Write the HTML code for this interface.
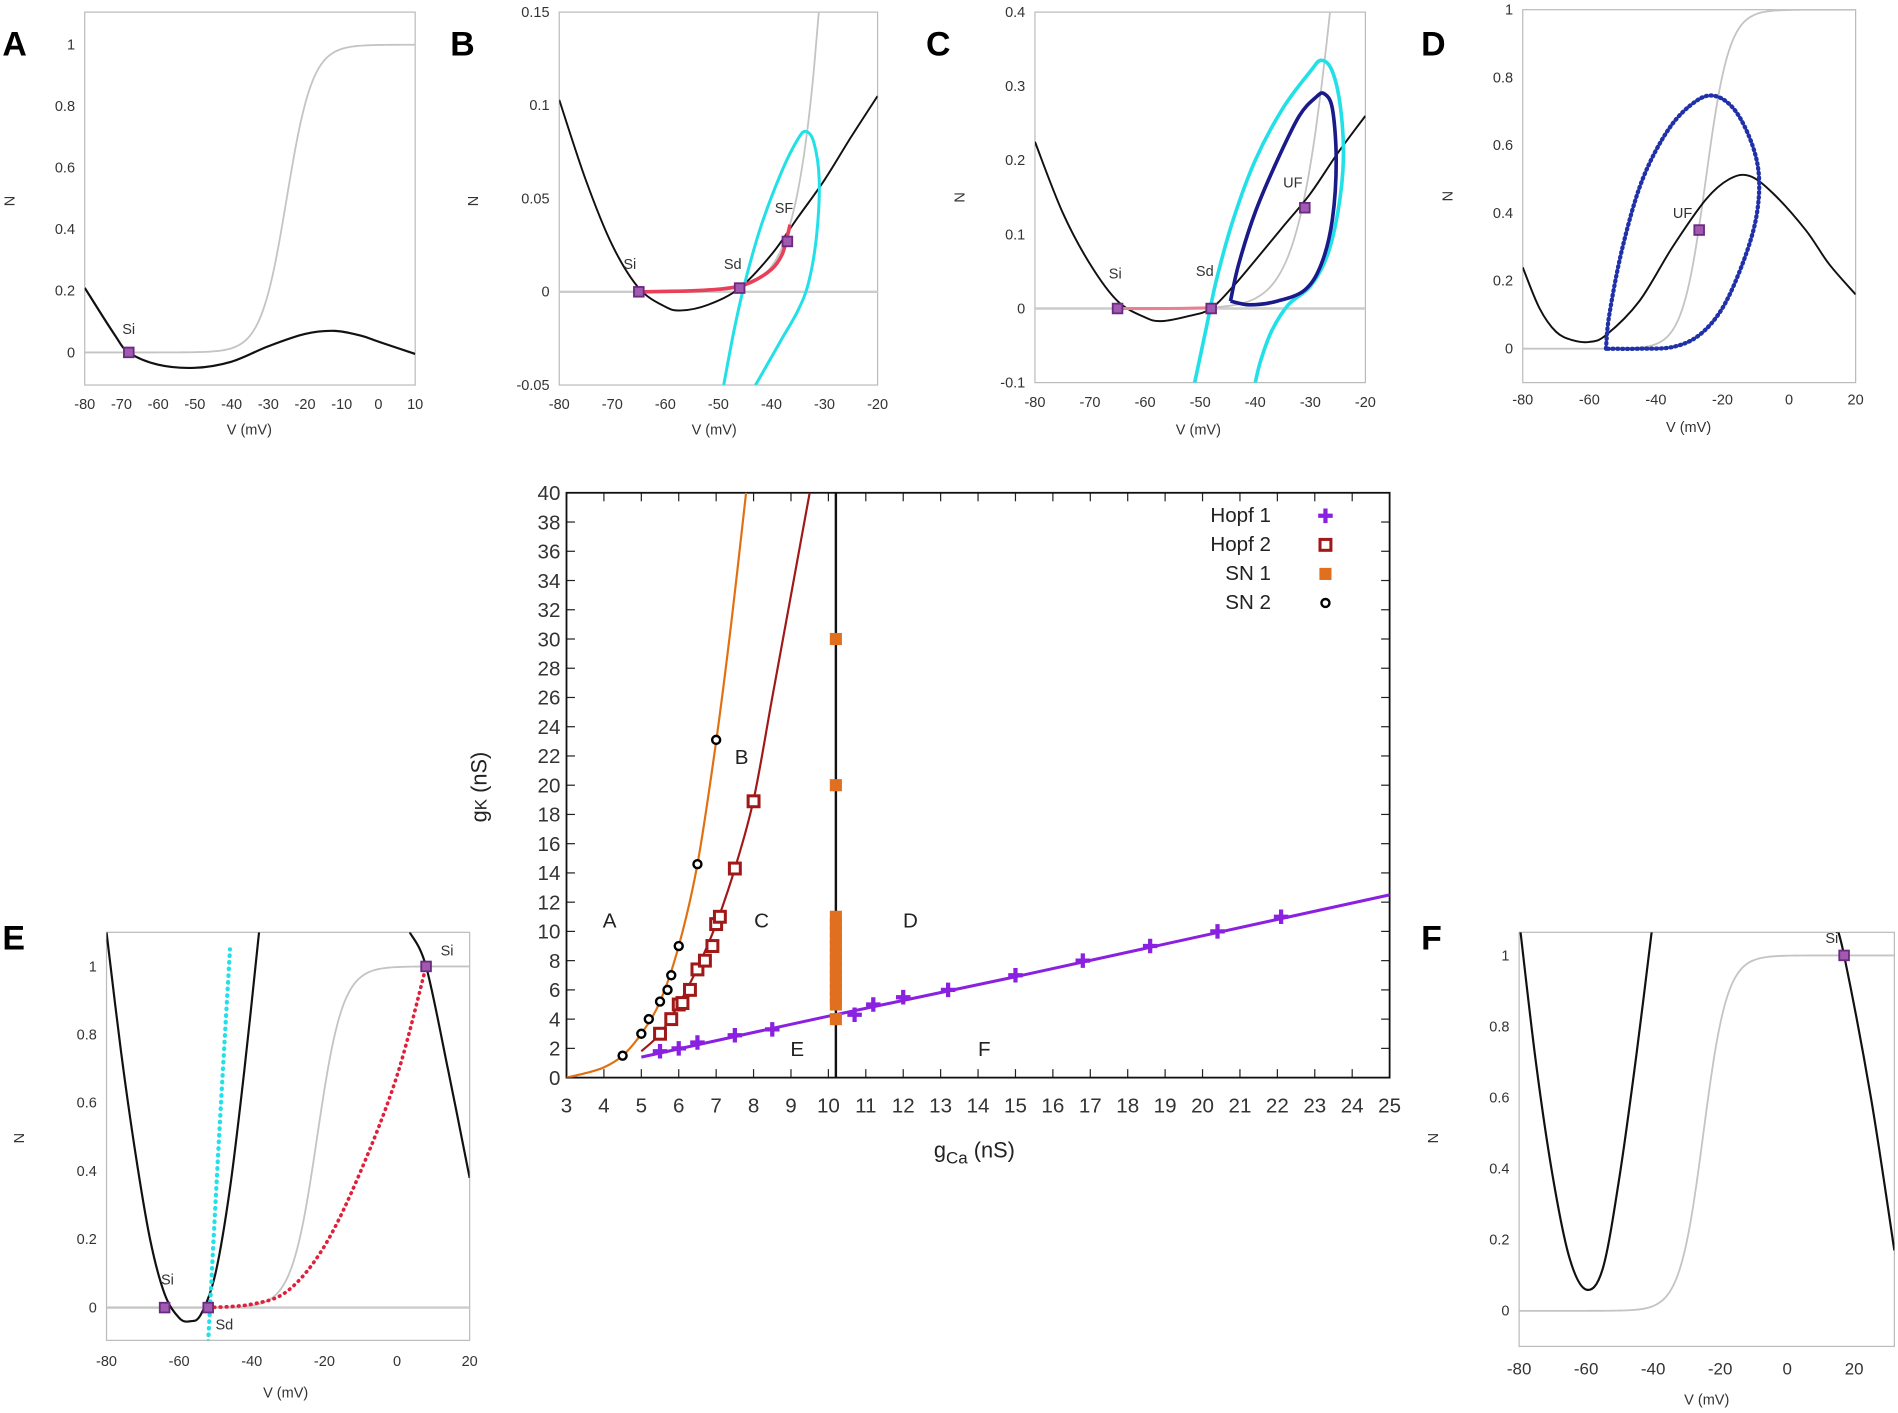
<!DOCTYPE html>
<html><head><meta charset="utf-8"><style>
html,body{margin:0;padding:0;background:#fff;}
svg{display:block;}
text{font-family:"Liberation Sans",sans-serif;}
</style></head><body>
<svg id="s" width="1898" height="1413" viewBox="0 0 1568 1167" preserveAspectRatio="none" xmlns="http://www.w3.org/2000/svg">
<g id="g"></g>
<g font-size="11" fill="#222">
<text x="2" y="46" font-size="28" font-weight="bold" fill="#000">A</text>
<text x="372" y="46" font-size="28" font-weight="bold" fill="#000">B</text>
<text x="765" y="46" font-size="28" font-weight="bold" fill="#000">C</text>
<text x="1174" y="46" font-size="28" font-weight="bold" fill="#000">D</text>
<text x="2" y="784" font-size="28" font-weight="bold" fill="#000">E</text>
<text x="1174" y="784" font-size="28" font-weight="bold" fill="#000">F</text>
</g>
<g id="t" font-size="12" fill="#333"></g>
<g font-size="12" fill="#333">
<text x="206" y="359" text-anchor="middle">V (mV)</text>
<text x="590" y="359" text-anchor="middle">V (mV)</text>
<text x="990" y="359" text-anchor="middle">V (mV)</text>
<text x="1395" y="357" text-anchor="middle">V (mV)</text>
<text x="236" y="1154" text-anchor="middle">V (mV)</text>
<text x="1410" y="1160" text-anchor="middle">V (mV)</text>
<text transform="translate(12,166) rotate(-90)" text-anchor="middle">N</text>
<text transform="translate(395,166) rotate(-90)" text-anchor="middle">N</text>
<text transform="translate(797,163) rotate(-90)" text-anchor="middle">N</text>
<text transform="translate(1200,162) rotate(-90)" text-anchor="middle">N</text>
<text transform="translate(20,940) rotate(-90)" text-anchor="middle">N</text>
<text transform="translate(1188,940) rotate(-90)" text-anchor="middle">N</text>
<text x="101" y="276">Si</text>
<text x="515" y="222">Si</text><text x="598" y="222">Sd</text><text x="640" y="176">SF</text>
<text x="916" y="230">Si</text><text x="988" y="228">Sd</text><text x="1060" y="155">UF</text>
<text x="1382" y="180">UF</text>
<text x="133" y="1061">Si</text><text x="178" y="1098">Sd</text><text x="364" y="789">Si</text>
<text x="1508" y="779">Si</text>
</g>
<g font-size="17" fill="#222">
<text x="1050" y="431" text-anchor="end">Hopf 1</text>
<text x="1050" y="455" text-anchor="end">Hopf 2</text>
<text x="1050" y="479" text-anchor="end">SN 1</text>
<text x="1050" y="503" text-anchor="end">SN 2</text>
<text x="498" y="766">A</text><text x="607" y="631">B</text><text x="623" y="766">C</text><text x="746" y="766">D</text><text x="653" y="872">E</text><text x="808" y="872">F</text>
<text x="805" y="956" text-anchor="middle" font-size="18">g<tspan font-size="14" dy="5">Ca</tspan><tspan dy="-5"> (nS)</tspan></text>
<text transform="translate(402,650) rotate(-90)" text-anchor="middle" font-size="18">g<tspan font-size="14">K</tspan> (nS)</text>
</g>
</svg>
<script>
var G=document.getElementById('g'),T=document.getElementById('t'),NS='http://www.w3.org/2000/svg';
function el(p,n,a){var e=document.createElementNS(NS,n);for(var k in a)e.setAttribute(k,a[k]);p.appendChild(e);return e;}
function txt(p,x,y,s,anc,fs){var e=el(p,'text',{x:x,y:y,'text-anchor':anc||'middle'});if(fs)e.setAttribute('font-size',fs);e.textContent=s;}
var cid=0;
function P(x0,x1,y0,y1,a,b,c,d){var p={x0:x0,x1:x1,y0:y0,y1:y1,X:function(v){return x0+(v-a)/(b-a)*(x1-x0)},Y:function(v){return y1-(v-c)/(d-c)*(y1-y0)}};
 p.id='c'+(cid++);var cp=el(G,'clipPath',{id:p.id});el(cp,'rect',{x:x0,y:y0,width:x1-x0,height:y1-y0});
 el(G,'rect',{x:x0,y:y0,width:x1-x0,height:y1-y0,fill:'none',stroke:'#bbb','stroke-width':1});return p;}
function cr(p,pts){var q=pts.map(function(t){return[p.X(t[0]),p.Y(t[1])]});var s='M'+q[0][0]+','+q[0][1];
 for(var i=0;i<q.length-1;i++){var p0=q[i-1]||q[i],p1=q[i],p2=q[i+1],p3=q[i+2]||q[i+1];
 s+='C'+(p1[0]+(p2[0]-p0[0])/6)+','+(p1[1]+(p2[1]-p0[1])/6)+' '+(p2[0]-(p3[0]-p1[0])/6)+','+(p2[1]-(p3[1]-p1[1])/6)+' '+p2[0]+','+p2[1];}return s;}
function line(p,pts,col,w,dash){var a={d:cr(p,pts),fill:'none',stroke:col,'stroke-width':w,'clip-path':'url(#'+p.id+')'};if(dash){a['stroke-dasharray']=dash;a['stroke-linecap']='round';}el(G,'path',a);}
function sig(p,a,b,vh){var pts=[];for(var v=a;v<=b;v+=1)pts.push([v,1/(1+Math.exp(-(v-vh)/3.5))]);line(p,pts,'#c4c4c4',1.5);}
function mk(p,v,n){var x=p.X(v),y=p.Y(n);el(G,'rect',{x:x-4,y:y-4,width:8,height:8,fill:'#a05ab0',stroke:'#6a2a80','stroke-width':1.5});}
function xt(p,vals,y,fs){vals.forEach(function(v){txt(T,p.X(v),y,String(v),'middle',fs);});}
function yt(p,vals,fs){vals.forEach(function(v){txt(T,p.x0-8,p.Y(v)+4,String(v),'end',fs);});}
var A=P(70,343,10,318,-80,10,-0.106,1.106);
sig(A,-80,10,-25);
line(A,[[-80,0.21],[-72,0.06],[-68,0],[-60,-0.04],[-50,-0.05],[-40,-0.03],[-30,0.02],[-20,0.06],[-12,0.07],[-5,0.055],[0,0.035],[10,-0.005]],'#111',1.8);
mk(A,-68,0);xt(A,[-80,-70,-60,-50,-40,-30,-20,-10,0,10],338);yt(A,[0,0.2,0.4,0.6,0.8,1]);
var B=P(462,725,10,318,-80,-20,-0.05,0.15);
el(G,'line',{x1:462,x2:725,y1:B.Y(0),y2:B.Y(0),stroke:'#ccc','stroke-width':2});
sig(B,-60,-20,-25);
line(B,[[-80,0.103],[-75,0.06],[-70,0.025],[-65,0.002],[-60,-0.008],[-57,-0.01],[-52,-0.007],[-46,0.002],[-40,0.02],[-35,0.04],[-30,0.06],[-25,0.083],[-20,0.105]],'#111',1.6);
line(B,[[-49,-0.05],[-47,-0.02],[-45,0.005],[-42,0.035],[-38,0.065],[-35,0.082],[-33.5,0.086],[-32,0.08],[-31,0.06],[-31.5,0.03],[-33,0.005],[-35,-0.01],[-38,-0.025],[-40,-0.035],[-42,-0.045],[-43,-0.05]],'#22e0e8',2.5);
line(B,[[-65,0],[-55,0.0005],[-48,0.002],[-44,0.005],[-40,0.012],[-38,0.02],[-37,0.03],[-36.5,0.036]],'#e8405a',3);
mk(B,-65,0);mk(B,-46,0.002);mk(B,-37,0.027);
xt(B,[-80,-70,-60,-50,-40,-30,-20],338);yt(B,[-0.05,0,0.05,0.1,0.15]);
var C=P(855,1128,10,316,-80,-20,-0.1,0.4);
el(G,'line',{x1:855,x2:1128,y1:C.Y(0),y2:C.Y(0),stroke:'#ccc','stroke-width':2});
sig(C,-60,-20,-25);
line(C,[[-80,0.225],[-75,0.13],[-70,0.06],[-65,0.01],[-60,-0.012],[-57,-0.017],[-52,-0.01],[-48,0],[-44,0.03],[-40,0.065],[-35,0.11],[-30,0.155],[-25,0.21],[-20,0.26]],'#111',1.6);
line(C,[[-51,-0.1],[-49,-0.03],[-47,0.04],[-44,0.12],[-40,0.2],[-35,0.27],[-30,0.32],[-28,0.335],[-26,0.32],[-24.5,0.27],[-24,0.2],[-25,0.13],[-27,0.07],[-30,0.03],[-34,0.005],[-37,-0.03],[-39,-0.07],[-40,-0.1]],'#22e0e8',3);
line(C,[[-44.5,0.01],[-43,0.06],[-40,0.13],[-36,0.2],[-32,0.26],[-29,0.285],[-27.5,0.29],[-26,0.27],[-25.3,0.2],[-26,0.12],[-28,0.06],[-31,0.025],[-36,0.01],[-41,0.005],[-44.5,0.01]],'#1a1a8a',3);
line(C,[[-65,0],[-56,0],[-48,0.001]],'#e88090',2.5);
mk(C,-65,0);mk(C,-48,0);mk(C,-31,0.136);
xt(C,[-80,-70,-60,-50,-40,-30,-20],336);yt(C,[-0.1,0,0.1,0.2,0.3,0.4]);
var D=P(1258,1533,8,316,-80,20,-0.1,1);
sig(D,-80,20,-25);
line(D,[[-80,0.24],[-75,0.12],[-70,0.05],[-65,0.025],[-60,0.02],[-55,0.04],[-45,0.14],[-35,0.3],[-25,0.44],[-18,0.5],[-12,0.51],[-5,0.46],[5,0.35],[12,0.25],[20,0.16]],'#111',1.6);
line(D,[[-55,0],[-54,0.1],[-50,0.3],[-44,0.5],[-36,0.65],[-28,0.73],[-22,0.745],[-16,0.7],[-11,0.6],[-9,0.5],[-10,0.38],[-14,0.25],[-20,0.12],[-27,0.04],[-35,0.005],[-45,0],[-55,0]],'#2030a8',3.5,'1 3');
mk(D,-27,0.35);
xt(D,[-80,-60,-40,-20,0,20],334);yt(D,[0,0.2,0.4,0.6,0.8,1]);
var E=P(88,388,770,1107,-80,20,-0.096,1.1);
el(G,'line',{x1:88,x2:388,y1:E.Y(0),y2:E.Y(0),stroke:'#ccc','stroke-width':2});
sig(E,-80,20,-22);
line(E,[[-80,1.1],[-76,0.75],[-72,0.45],[-68,0.2],[-64,0.04],[-60,-0.03],[-57,-0.04],[-54,-0.02],[-50,0.1],[-46,0.35],[-42,0.7],[-38,1.1]],'#111',1.8);
line(E,[[3.5,1.1],[8,1],[14,0.7],[20,0.38]],'#111',1.8);
line(E,[[-52,-0.1],[-49,0.5],[-46,1.05]],'#22e0e8',3.5,'0.5 5');
line(E,[[-52,0],[-40,0.01],[-30,0.05],[-20,0.18],[-10,0.4],[0,0.68],[8,1]],'#e0203a',3,'0.5 4.5');
mk(E,-64,0);mk(E,-52,0);mk(E,8,1);
xt(E,[-80,-60,-40,-20,0,20],1128);yt(E,[0,0.2,0.4,0.6,0.8,1]);
var F=P(1255,1565,770,1112,-80,32,-0.1,1.065);
sig(F,-80,32,-25);
line(F,[[-80,1.1],[-75,0.7],[-70,0.38],[-65,0.15],[-60,0.06],[-55,0.12],[-50,0.38],[-45,0.72],[-40,1.1]],'#111',1.8);
line(F,[[14,1.1],[17,1],[25,0.6],[32,0.17]],'#111',1.8);
mk(F,17,1);
xt(F,[-80,-60,-40,-20,0,20],1135,14);yt(F,[0,0.2,0.4,0.6,0.8,1]);
var M={x0:468,x1:1148,y0:407,y1:890,X:function(v){return 468+(v-3)/22*680},Y:function(v){return 890-v/40*483},id:'cm'};
var cp=el(G,'clipPath',{id:'cm'});el(cp,'rect',{x:468,y:407,width:680,height:483});
for(var i=3;i<=25;i++){var x=M.X(i);el(G,'line',{x1:x,x2:x,y1:890,y2:883,stroke:'#222'});el(G,'line',{x1:x,x2:x,y1:407,y2:414,stroke:'#222'});txt(T,x,919,String(i),'middle',17);}
for(var j=0;j<=40;j+=2){var y=M.Y(j);el(G,'line',{x1:468,x2:475,y1:y,y2:y,stroke:'#222'});el(G,'line',{x1:1148,x2:1141,y1:y,y2:y,stroke:'#222'});txt(T,463,y+6,String(j),'end',17);}
el(G,'rect',{x:468,y:407,width:680,height:483,fill:'none',stroke:'#111','stroke-width':1.5});
line(M,[[3,0],[3.5,0.3],[4,0.7],[4.5,1.5],[5,3],[5.5,5.2],[6,9],[6.5,14.6],[7,23],[7.4,31],[7.8,40]],'#e07010',1.8);
line(M,[[5,1.8],[5.5,3],[6,5],[6.5,7.5],[7,10.5],[7.5,14.3],[8,19],[8.5,26],[9,33],[9.5,40]],'#a01818',1.8);
el(G,'line',{x1:M.X(10.2),x2:M.X(10.2),y1:407,y2:890,stroke:'#111','stroke-width':2});
line(M,[[5,1.4],[10,4.2],[15,6.9],[20,9.7],[25,12.5]],'#8a20e0',2.5);
function plus(x,y,c){el(G,'path',{d:'M'+(x-6)+','+y+'h12M'+x+','+(y-6)+'v12',stroke:c,'stroke-width':3.5});}
[[5.5,1.8],[6,2],[6.5,2.4],[7.5,2.9],[8.5,3.3],[10.7,4.3],[11.2,5],[12,5.5],[13.2,6],[15,7],[16.8,8],[18.6,9],[20.4,10],[22.1,11]].forEach(function(t){plus(M.X(t[0]),M.Y(t[1]),'#8a20e0');});
function hsq(x,y){el(G,'rect',{x:x-4.5,y:y-4.5,width:9,height:9,fill:'#fff',stroke:'#a01818','stroke-width':2.5});}
[[5.5,3],[5.8,4],[6,5],[6.1,5.1],[6.3,6],[6.5,7.4],[6.7,8],[6.9,9],[7,10.5],[7.1,11],[7.5,14.3],[8,18.9]].forEach(function(t){hsq(M.X(t[0]),M.Y(t[1]));});
function osq(x,y){el(G,'rect',{x:x-5,y:y-5,width:10,height:10,fill:'#e07020'});}
[4,5,5.5,6,6.5,7,7.5,8,8.5,9,9.5,10,10.5,11,20,30].forEach(function(v){osq(M.X(10.2),M.Y(v));});
function circ(x,y){el(G,'circle',{cx:x,cy:y,r:3.3,fill:'#fff',stroke:'#000','stroke-width':2});}
[[4.5,1.5],[5,3],[5.2,4],[5.5,5.2],[5.7,6],[5.8,7],[6,9],[6.5,14.6],[7,23.1]].forEach(function(t){circ(M.X(t[0]),M.Y(t[1]));});
plus(1095,426,'#8a20e0');hsq(1095,450);osq(1095,474);circ(1095,498);
</script>
</body></html>
